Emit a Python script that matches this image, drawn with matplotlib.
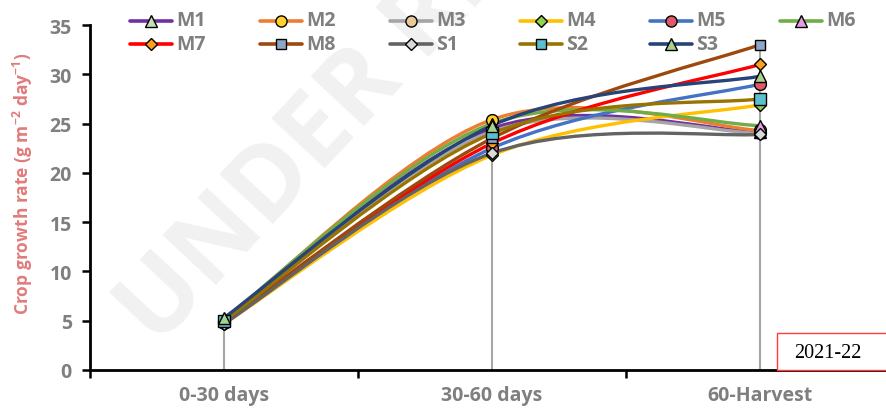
import matplotlib
matplotlib.use("Agg")
import matplotlib.pyplot as plt
from matplotlib.path import Path
from matplotlib.patches import PathPatch, Rectangle
from matplotlib.lines import Line2D

plt.rcParams["mathtext.fontset"] = "custom"
plt.rcParams["mathtext.rm"] = "Open Sans:bold"
plt.rcParams["mathtext.bf"] = "Open Sans:bold"
plt.rcParams["mathtext.default"] = "bf"

categories = ["0-30 days", "30-60 days", "60-Harvest"]
series_names = ["M1", "M2", "M3", "M4", "M5", "M6", "M7", "M8", "S1", "S2", "S3"]
M1 = [5.1, 24.5, 24.1]
M2 = [5.0, 25.4, 24.3]
M3 = [4.9, 24.2, 24.0]
M4 = [4.7, 21.8, 26.9]
M5 = [4.8, 22.5, 29.0]
M6 = [5.2, 25.0, 24.8]
M7 = [4.8, 23.0, 31.0]
M8 = [4.9, 23.5, 33.0]
S1 = [4.7, 22.0, 23.9]
S2 = [5.0, 24.0, 27.5]
S3 = [5.3, 24.8, 29.8]
values = [M1, M2, M3, M4, M5, M6, M7, M8, S1, S2, S3]
yticks = [0, 5, 10, 15, 20, 25, 30, 35]

line_colors = ["#7030a0", "#ed7d31", "#a5a5a5", "#ffc000", "#4472c4", "#70ad47",
               "#ff0000", "#9e480e", "#636363", "#997300", "#264478"]
marker_faces = ["#c5e0b4", "#ffd22e", "#e8c99a", "#92d050", "#e0586a", "#e49ee0",
                "#ff9e1a", "#8fa6c6", "#d9d9d9", "#5bbfcf", "#a9d18e"]
markers = ["^", "o", "o", "D", "o", "^", "D", "s", "D", "s", "^"]
msizes = [8.5, 8.5, 8.5, 6.5, 8.5, 8.5, 6.5, 7, 6.5, 8, 8.5]

W, H = 887, 410
fig = plt.figure(figsize=(W / 100, H / 100), dpi=100)
fig.patch.set_facecolor("white")
ax = fig.add_axes([90 / W, 39 / H, 804 / W, 345 / H])
ax.set_facecolor("white")
ax.set_xlim(-0.5, 2.5)
ax.set_ylim(0, 35)

font = "Open Sans"
gray = "#7f7f7f"

# watermark
fig.text(100 / W, 45 / H, "UNDER REVIEW", rotation=47, fontsize=74, color="#f1f1f1",
         fontweight="bold", ha="left", va="bottom", zorder=0, family=font)

x = list(range(len(categories)))

# drop lines
for i in x:
    top = max(v[i] for v in values)
    ax.plot([i, i], [0, top], color="#a6a6a6", lw=1.5, zorder=1, solid_capstyle="butt")


def smooth_path(xs, ys):
    n = len(xs)
    verts = [(xs[0], ys[0])]
    codes = [Path.MOVETO]
    for k in range(n - 1):
        p0 = (xs[max(k - 1, 0)], ys[max(k - 1, 0)])
        p1 = (xs[k], ys[k])
        p2 = (xs[k + 1], ys[k + 1])
        p3 = (xs[min(k + 2, n - 1)], ys[min(k + 2, n - 1)])
        c1 = (p1[0] + (p2[0] - p0[0]) / 6, p1[1] + (p2[1] - p0[1]) / 6)
        c2 = (p2[0] - (p3[0] - p1[0]) / 6, p2[1] - (p3[1] - p1[1]) / 6)
        verts += [c1, c2, p2]
        codes += [Path.CURVE4] * 3
    return Path(verts, codes)


for j, (name, v) in enumerate(zip(series_names, values)):
    patch = PathPatch(smooth_path(x, v), facecolor="none", edgecolor=line_colors[j],
                      lw=2.4, zorder=2 + j * 0.01, capstyle="round")
    ax.add_patch(patch)
for j, (name, v) in enumerate(zip(series_names, values)):
    ax.plot(x, v, linestyle="none", marker=markers[j], markersize=msizes[j],
            markerfacecolor=marker_faces[j], markeredgecolor="black",
            markeredgewidth=1.0, zorder=4 + j * 0.01)

ax.set_yticks(yticks)
ax.set_yticklabels([str(t) for t in yticks], fontsize=14, fontweight="bold",
                   color=gray, family=font)
ax.set_xticks([-0.5, 0.5, 1.5, 2.5])
ax.set_xticklabels([])
ax.set_xticks(x, minor=True)
ax.set_xticklabels(categories, minor=True, fontsize=14, fontweight="bold",
                   color=gray, family=font)
ax.tick_params(axis="x", which="minor", length=0, pad=11)
ax.tick_params(axis="x", which="major", length=6, width=1.8, direction="out", color="black")
ax.tick_params(axis="y", which="major", length=6, width=1.8, direction="out", color="black", pad=7)
for s in ["top", "right"]:
    ax.spines[s].set_visible(False)
for s in ["left", "bottom"]:
    ax.spines[s].set_linewidth(2)
    ax.spines[s].set_color("black")

fig.text(23 / W, 1 - 184 / H, "Crop growth rate (g m$^{-2}$ day$^{-1}$)", rotation=90,
         fontsize=12.5, fontweight="bold", color="#e07b7b", family=font,
         ha="center", va="center")

# legend drawn manually: 6 columns, 2 rows, filled row-wise
for idx, name in enumerate(series_names):
    r, c = divmod(idx, 6)
    x0 = 130 + 130 * c
    y0 = 21.5 + 23.5 * r
    yf = 1 - y0 / H
    fig.add_artist(Line2D([x0 / W, (x0 + 42) / W], [yf, yf], transform=fig.transFigure,
                          color=line_colors[idx], lw=2.6, solid_capstyle="round"))
    fig.add_artist(Line2D([(x0 + 21) / W], [yf], transform=fig.transFigure,
                          linestyle="none", marker=markers[idx],
                          markersize=msizes[idx] - 0.5, markerfacecolor=marker_faces[idx],
                          markeredgecolor="black", markeredgewidth=1.0))
    fig.text((x0 + 46) / W, yf, name, fontsize=14, fontweight="bold", color=gray,
             family=font, ha="left", va="center")

# year box
fig.patches.append(Rectangle((777 / W, 39 / H), 115 / W, 37 / H, transform=fig.transFigure,
                             facecolor="white", edgecolor="#ff3b3b", lw=1, zorder=5))
fig.text(828 / W, 56 / H, "2021-22", fontsize=14.5, family="Liberation Serif",
         color="black", ha="center", va="center", zorder=6)

fig.savefig("out.png", dpi=100)
